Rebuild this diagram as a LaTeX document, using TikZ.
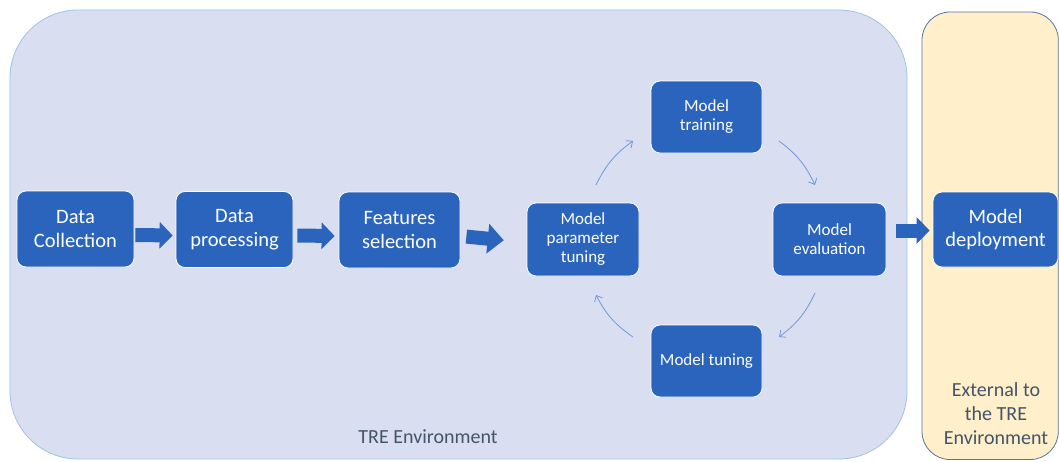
\documentclass[tikz,border=0pt]{standalone}
\usepackage{fontspec}
\setmainfont{Carlito}
\usetikzlibrary{arrows.meta}
\definecolor{boxblue}{HTML}{2A64BD}
\definecolor{trefill}{HTML}{D9DFF1}
\definecolor{treline}{HTML}{9DC3E6}
\definecolor{extfill}{HTML}{FFEFCA}
\definecolor{extline}{HTML}{5A74A0}
\definecolor{labelgray}{HTML}{44546A}
\definecolor{cycline}{HTML}{6F97DA}
\tikzset{
  bigbox/.style={draw=white, line width=0.8pt, fill=boxblue, rounded corners=9pt,
    text=white, align=center, inner sep=0pt, font=\fontsize{20.5}{23.5}\selectfont},
  smallbox/.style={draw=white, line width=0.8pt, fill=boxblue, rounded corners=9pt,
    text=white, align=center, inner sep=0pt, font=\fontsize{17}{19}\selectfont},
  blockarrow/.style={draw=boxblue, line width=14pt,
    -{Triangle[length=13pt, width=26pt]}},
  cycarrow/.style={draw=cycline, line width=0.8pt, -{Straight Barb[length=5pt, width=9pt]}},
  envlabel/.style={text=labelgray, align=center, font=\fontsize{20}{24}\selectfont}
}
\begin{document}
\begin{tikzpicture}[x=1pt, y=-1pt]
\useasboundingbox (0,0) rectangle (1059,461);
% environments
\draw[fill=trefill, draw=treline, line width=0.8pt, rounded corners=68pt] (10,10) rectangle (907,459);
\draw[fill=extfill, draw=extline, line width=0.8pt, rounded corners=28pt] (922,12) rectangle (1058.3,459.5);
\node[envlabel] (trelabel) at (428,437) {TRE Environment};
\node[envlabel] (extlabel) at (996,414) {External to\\the TRE\\Environment};
% nodes
\node[bigbox, minimum width=117pt, minimum height=76pt] (dc) at (75.5,229) {Data\\Collection};
\node[bigbox, minimum width=117pt, minimum height=76pt] (dp) at (234.5,229.5) {Data\\processing};
\node[bigbox, minimum width=121pt, minimum height=76pt] (fs) at (399.5,230) {Features\\selection};
\node[smallbox, minimum width=112pt, minimum height=73pt] (pt) at (583,239.5) {Model\\parameter\\tuning};
\node[smallbox, minimum width=111pt, minimum height=72pt] (mt) at (706.5,117) {Model\\training};
\node[smallbox, minimum width=113pt, minimum height=73pt] (me) at (829.5,239.5) {Model\\evaluation};
\node[smallbox, minimum width=111pt, minimum height=72pt] (mtu) at (706.5,361) {Model tuning};
\node[bigbox, minimum width=125pt, minimum height=75pt] (md) at (995.5,229.5) {Model\\deployment};
% block arrows
\draw[blockarrow, shorten <=1pt, shorten >=3pt] ([yshift=-6pt]dc.east) -- ([yshift=-6pt]dp.west);
\draw[blockarrow, shorten <=4pt, shorten >=4pt] ([yshift=-6pt]dp.east) -- ([yshift=-6pt]fs.west);
\draw[blockarrow, shorten <=6pt, shorten >=23pt, -{Triangle[length=16pt, width=29pt]}] ([yshift=-6pt]fs.east) -- ([yshift=-3pt]pt.west);
\draw[blockarrow, shorten <=10pt, shorten >=3pt] ([yshift=9pt]me.east) -- ([yshift=-1pt]md.west);
% cycle arcs
\coordinate (a1s) at (596,185); \coordinate (a1e) at (633,141);
\coordinate (a2s) at (779,141); \coordinate (a2e) at (815,185);
\coordinate (a3s) at (815,293); \coordinate (a3e) at (779,337);
\coordinate (a4s) at (633,337); \coordinate (a4e) at (596,295);
\draw[cycarrow] (a1s) to[bend left=14] (a1e);
\draw[cycarrow] (a2s) to[bend left=14] (a2e);
\draw[cycarrow] (a3s) to[bend left=14] (a3e);
\draw[cycarrow] (a4s) to[bend left=14] (a4e);
\end{tikzpicture}
\end{document}
